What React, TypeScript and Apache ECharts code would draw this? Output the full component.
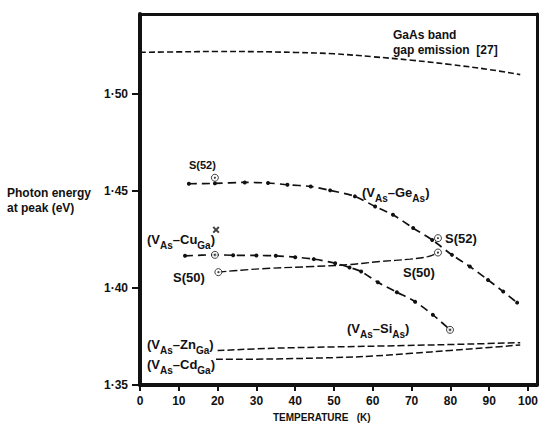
import React, { useEffect, useRef } from "react";
import * as echarts from "echarts";

// ---- data ----
const xTickValues = [0, 10, 20, 30, 40, 50, 60, 70, 80, 90, 100];
const yTickValues = [1.35, 1.4, 1.45, 1.5];

const gaasT = [0, 10, 20, 30, 40, 50, 60, 70, 80, 90, 98];
const gaasE = [1.5213, 1.5215, 1.5217, 1.5216, 1.5212, 1.5205, 1.519, 1.5172, 1.515, 1.5124, 1.5098];

const geT = [12.6, 19.3, 27, 33, 38, 44, 49, 55.4, 60.6, 65.2, 70.4, 75.3, 80.4, 85, 89.7, 93.6, 97.2];
const geE = [1.4536, 1.4538, 1.4543, 1.454, 1.4531, 1.4522, 1.4502, 1.4471, 1.4419, 1.4376, 1.4308, 1.4247, 1.417, 1.411, 1.4041, 1.3981, 1.3924];

const cuT = [11.6, 19.3, 24, 30, 35, 40, 44.8, 50.3, 54, 57, 61.3, 66.2, 70.9, 75.5, 79.9];
const cuE = [1.4165, 1.417, 1.4168, 1.4167, 1.4165, 1.4158, 1.4148, 1.4127, 1.4105, 1.4084, 1.4029, 1.3978, 1.3929, 1.3861, 1.3784];

const s50T = [20.2, 26, 33.5, 44.6, 53.4, 62, 69.6, 74.2, 76.8];
const s50E = [1.4081, 1.4091, 1.4101, 1.411, 1.4119, 1.4136, 1.4148, 1.4161, 1.4182];

const znT = [20, 34, 50, 68, 85, 98];
const znE = [1.3677, 1.3689, 1.3696, 1.3703, 1.3711, 1.3718];

const cdT = [19.6, 34, 50, 60, 70, 80, 90, 98];
const cdE = [1.3632, 1.3634, 1.3641, 1.3649, 1.3663, 1.3678, 1.3693, 1.3706];

const ringT = [19.3, 76.8, 19.3, 20.2, 76.8, 79.9];
const ringE = [1.4567, 1.4256, 1.417, 1.4081, 1.4182, 1.3784];

const crossT = [19.6];
const crossE = [1.4299];

const F = '"Liberation Sans", Arial, Helvetica, sans-serif';
const INK = "#111";

const zip = (a: number[], b: number[]) => a.map((v, i) => [v, b[i]]);

const rich = {
  a: { fontSize: 13, fontWeight: "bold", fontFamily: F, fill: INK },
  b: { fontSize: 10, fontWeight: "bold", fontFamily: F, fill: INK, padding: [12, 0, 0, 0] },
};

function richText(text: string, x: number, y: number) {
  return {
    type: "text",
    x,
    y,
    z: 100,
    style: {
      text,
      rich,
      fill: INK,
      font: `bold 13px ${F}`,
      verticalAlign: "middle",
      textVerticalAlign: "middle",
    },
  };
}

function plainText(text: string, x: number, y: number, size: number, weight = "bold") {
  return {
    type: "text",
    x,
    y,
    z: 100,
    style: {
      text,
      fill: INK,
      font: `${weight} ${size}px ${F}`,
      verticalAlign: "middle",
      textVerticalAlign: "middle",
    },
  };
}

export default function App() {
  const ref = useRef<HTMLDivElement>(null);
  useEffect(() => {
    if (!ref.current) return;
    const chart = echarts.init(ref.current, undefined, { renderer: "svg" });
    const dashDot = [8, 5];
    const frameAxis = (extra: any) => ({
      type: "value",
      ...extra,
      axisLine: { show: true, onZero: false, lineStyle: { color: INK, width: 3 } },
      axisTick: { show: false },
      axisLabel: { show: false },
      splitLine: { show: false },
    });
    chart.setOption({
      animation: false,
      backgroundColor: "#fff",
      grid: { left: 140, right: 4, top: 14, bottom: 49 },
      xAxis: [
        {
          type: "value",
          min: 0,
          max: 102.3,
          axisLine: { show: true, onZero: false, lineStyle: { color: INK, width: 4 } },
          axisTick: { show: true, customValues: xTickValues, length: 6, lineStyle: { color: INK, width: 2 } },
          axisLabel: {
            customValues: xTickValues,
            margin: 10,
            color: INK,
            fontSize: 12,
            fontWeight: "bold",
            fontFamily: F,
          },
          splitLine: { show: false },
        },
        frameAxis({ position: "top", min: 0, max: 102.3 }),
      ],
      yAxis: [
        {
          type: "value",
          min: 1.35,
          max: 1.541,
          axisLine: { show: true, onZero: false, lineStyle: { color: INK, width: 4 } },
          axisTick: { show: true, customValues: yTickValues, length: 8, lineStyle: { color: INK, width: 2 } },
          axisLabel: {
            customValues: yTickValues,
            margin: 12,
            color: INK,
            fontSize: 12,
            fontWeight: "bold",
            fontFamily: F,
            formatter: (v: number) => v.toFixed(2).replace(".", "\u00b7"),
          },
          splitLine: { show: false },
        },
        frameAxis({ position: "right", min: 1.35, max: 1.541 }),
      ],
      series: [
        {
          type: "line",
          data: zip(gaasT, gaasE),
          smooth: 0.4,
          symbol: "none",
          lineStyle: { color: INK, width: 1.6, type: [6, 3] },
        },
        {
          type: "line",
          data: zip(geT, geE),
          smooth: 0.3,
          symbol: "circle",
          symbolSize: 4,
          showSymbol: true,
          itemStyle: { color: INK },
          lineStyle: { color: INK, width: 1.7, type: dashDot },
        },
        {
          type: "line",
          data: zip(cuT, cuE),
          smooth: 0.3,
          symbol: "circle",
          symbolSize: 4,
          showSymbol: true,
          itemStyle: { color: INK },
          lineStyle: { color: INK, width: 1.7, type: dashDot },
        },
        {
          type: "line",
          data: zip(s50T, s50E),
          smooth: 0.4,
          symbol: "none",
          lineStyle: { color: INK, width: 1.4, type: [8, 3] },
        },
        {
          type: "line",
          data: zip(znT, znE),
          smooth: 0.4,
          symbol: "none",
          lineStyle: { color: INK, width: 1.5, type: [7, 3] },
        },
        {
          type: "line",
          data: zip(cdT, cdE),
          smooth: 0.4,
          symbol: "none",
          lineStyle: { color: INK, width: 1.5, type: [7, 3] },
        },
        {
          type: "scatter",
          data: zip(ringT, ringE),
          symbol: "circle",
          symbolSize: 7,
          z: 5,
          itemStyle: { color: "#fff", borderColor: INK, borderWidth: 1 },
        },
        {
          type: "scatter",
          data: zip(ringT, ringE),
          symbol: "circle",
          symbolSize: 2.2,
          z: 6,
          itemStyle: { color: INK },
        },
        {
          type: "scatter",
          data: zip(crossT, crossE),
          symbol: "path://M0,2L2,0L5,3L8,0L10,2L7,5L10,8L8,10L5,7L2,10L0,8L3,5Z",
          symbolSize: 7,
          z: 6,
          itemStyle: { color: INK },
        },
      ],
      graphic: [
        plainText("GaAs band", 393, 35, 12),
        plainText("gap emission  [27]", 393, 50, 12),
        plainText("S(52)", 189, 165, 11),
        plainText("S(52)", 445, 238, 13),
        plainText("S(50)", 173, 277, 13),
        plainText("S(50)", 403, 272, 13),
        richText("{a|(V}{b|As}{a|\u2013Ge}{b|As}{a|)}", 362, 192),
        richText("{a|(V}{b|As}{a|\u2013Cu}{b|Ga}{a|)}", 147, 239),
        richText("{a|(V}{b|As}{a|\u2013Si}{b|As}{a|)}", 347, 328),
        richText("{a|(V}{b|As}{a|\u2013Zn}{b|Ga}{a|)}", 147, 344),
        richText("{a|(V}{b|As}{a|\u2013Cd}{b|Ga}{a|)}", 147, 364),
        plainText("Photon energy", 7, 193, 12),
        plainText("at peak (eV)", 7, 208, 12),
        plainText("TEMPERATURE   (K)", 273, 417, 10),
      ],
    });
    return () => chart.dispose();
  }, []);
  return (
    <div
      ref={ref}
      style={{ position: "fixed", left: 0, top: 0, width: 541, height: 434, background: "#fff" }}
    />
  );
}
